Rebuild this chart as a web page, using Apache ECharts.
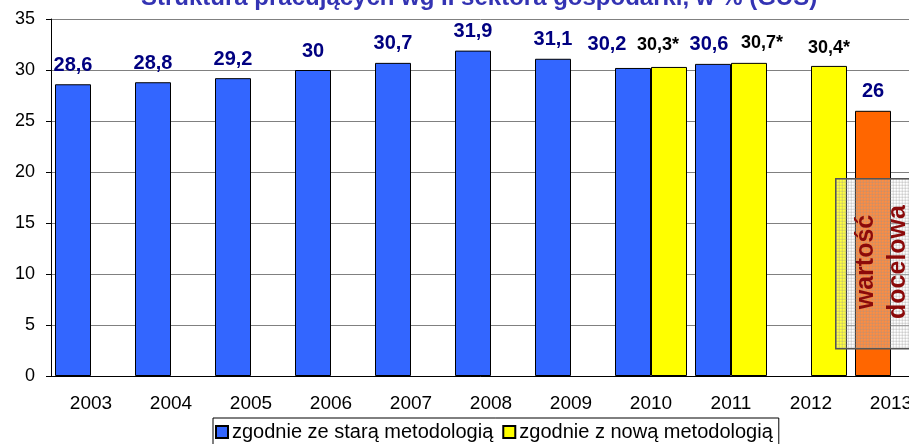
<!DOCTYPE html>
<html>
<head>
<meta charset="utf-8">
<script src="https://cdn.jsdelivr.net/npm/echarts@6/dist/echarts.min.js"></script>
<style>
  html, body { margin: 0; padding: 0; background: #fff; }
  #chart { width: 909px; height: 444px; }
</style>
</head>
<body>
<div id="chart"></div>
<script>
const years = ['2003', '2004', '2005', '2006', '2007', '2008', '2009', '2010', '2011', '2012', '2013']
const oldMethod = [28.6, 28.8, 29.2, 30, 30.7, 31.9, 31.1, 30.2, 30.6, null, null]
const newMethod = [null, null, null, null, null, null, null, 30.3, 30.7, 30.4, null]
const target = [null, null, null, null, null, null, null, null, null, null, 26]
const yTicks = [0, 5, 10, 15, 20, 25, 30, 35]

// label nudges, the original had a few labels dragged by hand
const oldNudge = { 7: [-26, -4], 8: [-4, 0] }
const newNudge = { 7: [-11, -4], 8: [13, -2] }

const FONT = 'Arial, "Liberation Sans", sans-serif'
const fmt = (v) => String(v).replace('.', ',')

// fine grey grid fill for the "wartość docelowa" box
function hatch() {
  const c = document.createElement('canvas')
  c.width = 3
  c.height = 3
  const ctx = c.getContext('2d')
  ctx.fillStyle = 'rgba(255,255,255,0.25)'
  ctx.fillRect(0, 0, 3, 3)
  ctx.fillStyle = 'rgba(150,150,150,0.35)'
  ctx.fillRect(0, 0, 3, 1)
  ctx.fillRect(0, 0, 1, 3)
  return c
}

const chart = echarts.init(document.getElementById('chart'))

const oldData = years.map((y, i) => {
  const v = oldMethod[i] != null ? oldMethod[i] : target[i]
  const item = { value: v }
  if (target[i] != null) item.itemStyle = { color: '#FF6600' }
  if (oldNudge[i]) item.label = { offset: oldNudge[i] }
  return item
})
const newData = years.map((y, i) => {
  const item = { value: newMethod[i] }
  if (newNudge[i]) item.label = { offset: newNudge[i] }
  return item
})

chart.setOption({
  animation: false,
  textStyle: { fontFamily: FONT },
  title: {
    text: 'Struktura pracujących wg II sektora gospodarki, w % (GUS)',
    left: 141,
    top: -14,
    padding: 0,
    textStyle: { fontSize: 24, fontWeight: 'bold', color: '#3333b3', fontFamily: FONT },
  },
  legend: {
    left: 213,
    top: 418,
    padding: [4, 6, 4, 2],
    borderColor: '#000',
    borderWidth: 1,
    borderRadius: 0,
    itemWidth: 12,
    itemHeight: 12,
    itemGap: 9,
    icon: 'rect',
    textStyle: { fontSize: 20, color: '#000', fontFamily: FONT, padding: [0, 0, 0, -1] },
    data: ['zgodnie ze starą metodologią', 'zgodnie z nową metodologią'],
  },
  grid: { left: 51, right: -22, top: 19, bottom: 68, outerBoundsMode: 'none' },
  xAxis: {
    type: 'category',
    data: years,
    axisLine: { lineStyle: { color: '#000', width: 1 } },
    axisTick: { length: 6, lineStyle: { color: '#000' } },
    axisLabel: { color: '#000', fontSize: 19, margin: 18, fontFamily: FONT },
  },
  yAxis: {
    type: 'value',
    min: yTicks[0],
    max: yTicks[yTicks.length - 1],
    interval: yTicks[1] - yTicks[0],
    axisLine: { show: true, lineStyle: { color: '#000', width: 1 } },
    axisTick: { show: true, length: 5, lineStyle: { color: '#000' } },
    axisLabel: { color: '#000', fontSize: 18, margin: 16, fontFamily: FONT },
    splitLine: { lineStyle: { color: '#808080', width: 1 } },
  },
  series: [
    {
      name: 'zgodnie ze starą metodologią',
      type: 'bar',
      data: oldData,
      barGap: '0%',
      barCategoryGap: '10%',
      itemStyle: { color: '#3366FF', borderColor: '#000', borderWidth: 1 },
      label: {
        show: true,
        position: 'top',
        distance: 9,
        color: '#000080',
        fontSize: 20,
        fontWeight: 'bold',
        fontFamily: FONT,
        formatter: (p) => fmt(p.value),
      },
    },
    {
      name: 'zgodnie z nową metodologią',
      type: 'bar',
      data: newData,
      barGap: '0%',
      barCategoryGap: '10%',
      itemStyle: { color: '#FFFF00', borderColor: '#000', borderWidth: 1 },
      label: {
        show: true,
        position: 'top',
        distance: 9,
        color: '#000',
        fontSize: 18,
        fontWeight: 'bold',
        fontFamily: FONT,
        formatter: (p) => fmt(p.value) + '*',
      },
    },
  ],
  graphic: [
    {
      type: 'rect',
      left: 835,
      top: 178,
      shape: { width: 90, height: 170 },
      style: { fill: { image: hatch(), repeat: 'repeat' }, stroke: '#555', lineWidth: 1.5 },
      z: 10,
    },
    {
      type: 'text',
      x: 882,
      y: 262,
      rotation: Math.PI / 2,
      style: {
        text: 'wartość\ndocelowa',
        fill: '#8b0a0a',
        font: 'bold 25px ' + FONT,
        align: 'center',
        verticalAlign: 'middle',
        lineHeight: 32,
      },
      z: 11,
    },
  ],
})
</script>
</body>
</html>
